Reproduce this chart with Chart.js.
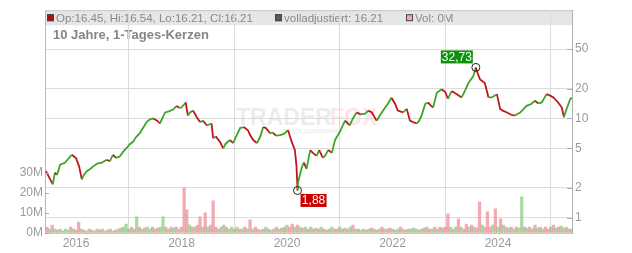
<!DOCTYPE html>
<html><head><meta charset="utf-8">
<script src="https://cdn.jsdelivr.net/npm/chart.js@4.4.0/dist/chart.umd.min.js"></script>
<style>html,body{margin:0;padding:0;background:#fff}#wrap{width:632px;height:253px}</style>
</head><body><div id="wrap"><canvas id="c" width="632" height="253"></canvas></div>
<script>
// ---- data ----
const priceYears = [2015.43,2015.51,2015.56,2015.60,2015.64,2015.70,2015.79,2015.85,2015.92,2016.00,
2016.06,2016.11,2016.15,2016.20,2016.27,2016.32,2016.40,2016.49,2016.58,2016.64,
2016.70,2016.76,2016.83,2016.89,2016.96,2017.02,2017.08,2017.14,2017.21,2017.27,
2017.34,2017.40,2017.46,2017.54,2017.59,2017.69,2017.76,2017.84,2017.91,2017.95,
2018.00,2018.08,2018.12,2018.16,2018.22,2018.29,2018.35,2018.41,2018.48,2018.57,
2018.60,2018.65,2018.73,2018.79,2018.84,2018.92,2018.98,2019.03,2019.11,2019.18,
2019.26,2019.30,2019.36,2019.43,2019.49,2019.55,2019.60,2019.68,2019.73,2019.79,
2019.87,2019.94,2020.02,2020.09,2020.15,2020.18,2020.20,2020.21,2020.28,2020.32,
2020.37,2020.44,2020.49,2020.56,2020.61,2020.68,2020.72,2020.78,2020.85,2020.91,
2021.00,2021.10,2021.19,2021.25,2021.32,2021.40,2021.48,2021.54,2021.61,2021.65,
2021.70,2021.76,2021.86,2021.91,2021.98,2022.05,2022.10,2022.20,2022.27,2022.33,
2022.39,2022.46,2022.50,2022.55,2022.62,2022.67,2022.73,2022.77,2022.84,2022.93,
2023.00,2023.05,2023.12,2023.22,2023.31,2023.37,2023.44,2023.53,2023.58,2023.61,
2023.66,2023.75,2023.82,2023.88,2023.98,2024.04,2024.09,2024.17,2024.25,2024.32,
2024.42,2024.47,2024.54,2024.63,2024.70,2024.76,2024.83,2024.92,2024.99,2025.05,
2025.14,2025.21,2025.25,2025.30,2025.37,2025.40];
const priceValues = [2.94,2.43,2.17,2.85,2.7,3.43,3.58,3.9,4.30,4.0,
3.27,2.43,2.7,2.92,3.1,3.27,3.5,3.58,3.84,3.7,
4.30,4.0,4.14,4.6,5.04,5.5,5.82,6.5,7.1,8.0,
9.2,9.8,10.0,9.5,8.9,11.5,11.8,12.3,13.4,12.8,
12.9,14.5,10.7,11.5,12.0,10.3,9.2,9.5,8.5,8.9,
6.3,6.6,5.8,5.0,5.6,6.06,5.65,6.5,8.0,8.2,
7.6,6.8,6.06,5.65,6.5,8.2,8.0,7.1,7.2,6.7,
6.8,7.0,7.6,5.8,4.8,3.3,1.88,2.27,3.2,3.6,
3.1,4.8,4.5,4.2,4.8,4.0,4.2,4.8,4.5,6.06,
7.3,9.5,8.5,10,11.5,11.0,11.2,12,11.5,10.5,
9.5,10.7,12.9,14.0,16.2,14.0,12.0,11.5,12.5,9.5,
9.2,8.9,9.4,10.7,14.0,14.5,13.5,12.9,18.2,19.7,
18.5,15.8,18.9,17.6,16.3,18.9,22.8,26.6,32.73,29,
24.7,22.8,16.3,16.3,17.6,12.5,12.0,11.5,10.9,10.7,
11.5,12.2,13.4,14.0,15.1,14.2,14.5,17.6,17.0,16.3,
14.5,12.9,10.3,12.5,15.7,16.21];
// volume in millions, one bar every 1/20 year from 2015.45
const volStart = 2015.45, volStep = 0.05;
const volValues = [3,2,4,2,1.5,2,1,2,1.5,3,
2,1.5,5.5,2,1.5,1,2,1.5,1,2,
1.5,2,1,1.5,2,1,1.5,2,2.5,3,
4.5,2,3,2,8,3,2,2.5,3,2,
3,2,2.5,3,8,3,2,3,2.5,3,
2,3,22.5,11.5,4,3,3,4,8,3,
10,3,4,16,3,2,3,4,3,2,
3,2,3,2,2,3,2,6.5,2,3,
2,1.5,2,3,2,1.5,2,3,2,2.5,
3,4,3,4.5,3,4,3,2.5,3,2,
3,2,2.5,2,3,2,1.5,2,3,2,
2,3,2,2.5,2,3,4,2,2,1.5,
2,1.5,2,2.5,2,1.5,2,3,2,2,
2.5,2,1.5,2,3,2,1.5,2,2,2.5,
2,1.5,2,2.5,3,2,2,3,2,3,
2.5,3,9.5,3,2,3,7,3,2,4.5,
3,4,3,2.5,15.5,4,3,10.5,3,4,
12,3,7,4,3,2.5,3,2,3,2.5,
18,3,2.5,3,2,4,2.5,3,2,3,
2,3,4,2.5,3,3.5,2.5,3,2,2];
const volColors = "pgpgpgpggp"+"gppgpgpgpg"+"pgpgpgpgpg"+"gpgpgpgpgg"+"pgpggpgpgp"+
"gpppgpgppg"+"pgpppgpgpg"+"gpgpgpgpgp"+"pgpgpgpgpg"+"pgppgpgpgp"+
"gpgpgpgpgp"+"pgpgpgpgpg"+"gpgpgpgpgp"+"pgpgpgpgpg"+"gpgpgpgpgp"+
"gppgpgpgpp"+"gpgppgpppg"+"pgpgpgpgpg"+"gpgpgpgpgp"+"pgpgpgpgpg";
const yearTicks = [2016,2018,2020,2022,2024];
const priceTicks = [1,2,5,10,20,50];
const volTicks = [0,10,20,30];
const peakPoint = {x:2023.58, y:32.73, label:"32,73"};
const lowPoint = {x:2020.20, y:1.88, label:"1,88"};
const legendTexts = ["Op:16.45, Hi:16.54, Lo:16.21, Cl:16.21","volladjustiert: 16.21","Vol: 0M"];
const titleText = "10 Jahre, 1-Tages-Kerzen";

const GREEN = '#3fa527', RED = '#c0161a', VG = 'rgba(140,205,130,0.75)', VR = 'rgba(238,150,160,0.8)';
const FONT = "'Liberation Sans', Arial, sans-serif";

const bgPlugin = {
  id:'bg',
  beforeDraw(chart){
    const c = chart.ctx, a = chart.chartArea;
    c.save();
    c.fillStyle = '#fff'; c.fillRect(0,0,chart.width,chart.height);
    c.fillStyle = '#e6e6e6'; c.fillRect(a.left, a.top, a.right-a.left, 15);
    c.strokeStyle = '#c8c8c8'; c.lineWidth = 1;
    c.beginPath(); c.moveTo(a.left, a.top+0.5); c.lineTo(a.right, a.top+0.5); c.stroke();
    c.font = '11.5px '+FONT; c.textBaseline = 'middle'; c.fillStyle = '#8a8a8a';
    const sq = [[47,'#b80d0d'],[275,'#5a5a5a'],[406,'#f0a8b0']];
    const tx = [56,284,415];
    for (let i=0;i<3;i++){
      c.fillStyle = sq[i][1]; c.fillRect(sq[i][0], a.top+4, 7, 7);
      c.strokeStyle = '#444'; c.strokeRect(sq[i][0]+0.5, a.top+4.5, 6, 6);
      c.fillStyle = '#8a8a8a'; c.fillText(legendTexts[i], tx[i], a.top+8.5);
    }
    c.font = 'bold 13px '+FONT; c.fillStyle = '#858585';
    c.fillText(titleText, 53, a.top+25.5);
    c.font = 'bold 23px '+FONT; c.fillStyle = 'rgba(200,200,200,0.35)';
    c.textBaseline = 'alphabetic';
    c.fillText('TRADER', 236, 125);
    c.fillStyle = 'rgba(240,140,150,0.22)';
    c.fillText('FOX', 330, 125);
    c.font = '6px '+FONT; c.fillStyle = 'rgba(190,190,190,0.45)';
    c.fillText('STOCK SCREENING', 282, 133);
    c.restore();
  }
};

const overlayPlugin = {
  id:'overlay',
  afterDraw(chart){
    const c = chart.ctx, a = chart.chartArea, sp = chart.scales.price, sv = chart.scales.vol, sx = chart.scales.x;
    c.save();
    c.strokeStyle = '#aaa'; c.lineWidth = 1;
    volTicks.forEach(v=>{ const y = Math.round(sv.getPixelForValue(v))+0.5; c.beginPath(); c.moveTo(a.left, y); c.lineTo(a.left+4, y); c.stroke(); });
    priceTicks.forEach(v=>{ const y = Math.round(sp.getPixelForValue(v))+0.5; c.beginPath(); c.moveTo(a.right-5, y); c.lineTo(a.right, y); c.stroke(); });
    c.font = '12px '+FONT; c.textBaseline = 'middle'; c.textAlign = 'center';
    const pk = {x: sx.getPixelForValue(peakPoint.x), y: sp.getPixelForValue(peakPoint.y)};
    c.strokeStyle = '#222'; c.lineWidth = 1;
    c.beginPath(); c.arc(pk.x, pk.y, 4, 0, Math.PI*2); c.stroke();
    c.fillStyle = '#0c930c'; c.fillRect(pk.x-35, pk.y-17, 32, 13);
    c.fillStyle = '#fff'; c.fillText(peakPoint.label, pk.x-19, pk.y-10.2);
    const lw = {x: sx.getPixelForValue(lowPoint.x), y: sp.getPixelForValue(lowPoint.y)};
    c.strokeStyle = '#222';
    c.beginPath(); c.arc(lw.x, lw.y, 4, 0, Math.PI*2); c.stroke();
    c.fillStyle = '#cc0000'; c.fillRect(lw.x+3, lw.y+3.5, 26, 13);
    c.fillStyle = '#fff'; c.fillText(lowPoint.label, lw.x+16, lw.y+10.3);
    c.restore();
  }
};

const tickFont = {size:12, family:FONT};
new Chart(document.getElementById('c'), {
  type:'line',
  data:{datasets:[
    {type:'line', label:'Kurs', data: priceYears.map((x,i)=>({x, y:priceValues[i]})), yAxisID:'price', xAxisID:'x',
     borderWidth:1.8, pointRadius:0, tension:0, borderColor:GREEN,
     segment:{borderColor: s => s.p1.parsed.y >= s.p0.parsed.y ? GREEN : RED}, order:1},
    {type:'bar', label:'Vol', data: volValues.map((v,i)=>({x: volStart+i*volStep, y:v})), yAxisID:'vol', xAxisID:'x',
     backgroundColor: volValues.map((v,i)=> volColors[i]==='g' ? VG : VR), barThickness:2.6, order:2}
  ]},
  options:{
    responsive:false, animation:false, devicePixelRatio:1,
    layout:{padding:{top:8,left:0,right:0,bottom:0}},
    plugins:{legend:{display:false}, tooltip:{enabled:false}},
    scales:{
      x:{type:'linear', min:2015.4123, max:2025.4028, offset:false,
         afterBuildTicks: s=>{ s.ticks = yearTicks.map(v=>({value:v})); },
         ticks:{callback:v=>String(v), color:'#9a9a9a', font:tickFont, padding:3, maxRotation:0, autoSkip:false},
         grid:{color:'#dcdcdc', drawTicks:false}, border:{color:'#c8c8c8'},
         afterFit: s=>{ s.height = 20; }},
      vol:{type:'linear', position:'left', min:0, max:111,
         afterBuildTicks: s=>{ s.ticks = volTicks.map(v=>({value:v})); },
         ticks:{callback:v=>v+'M', color:'#9a9a9a', font:tickFont, padding:2, autoSkip:false},
         grid:{drawOnChartArea:false, drawTicks:false}, border:{color:'#b8b8b8'},
         afterFit: s=>{ s.width = 45; }},
      price:{type:'logarithmic', position:'right', min:0.726, max:123.6,
         afterBuildTicks: s=>{ s.ticks = priceTicks.map(v=>({value:v})); },
         ticks:{callback:v=>String(v), color:'#9a9a9a', font:tickFont, padding:3, autoSkip:false},
         grid:{color:'#dcdcdc', drawTicks:false}, border:{color:'#b0b0b0'},
         afterFit: s=>{ s.width = 60; }}
    }
  },
  plugins:[bgPlugin, overlayPlugin]
});
</script></body></html>
